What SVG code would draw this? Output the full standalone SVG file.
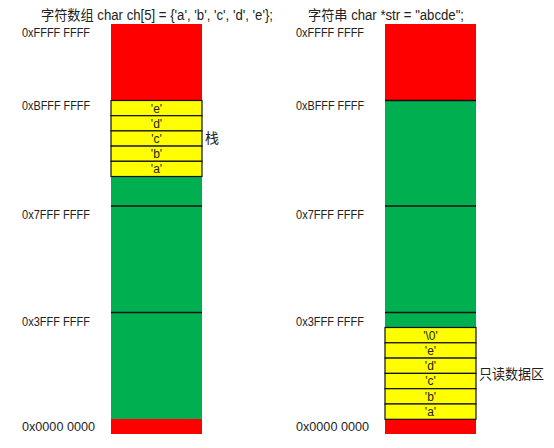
<svg xmlns="http://www.w3.org/2000/svg" width="554" height="448" viewBox="0 0 554 448">
<style>
text{font-family:"Liberation Sans","Noto Sans CJK SC",sans-serif;fill:#222;}
.t{font-size:14px;}
.a{font-size:12px;}
.c{font-size:12px;text-anchor:middle;}
.z{font-size:14px;}
.red{fill:#FF0000;}
.grn{fill:#00B050;}
.yel{fill:#FFFF00;stroke:#111;stroke-width:1.2;}
.ln{stroke:#111;stroke-width:1.5;}
</style>
<rect width="554" height="448" fill="#fff"/>
<g id="left">
<text class="t" x="41" y="20" textLength="232" lengthAdjust="spacingAndGlyphs">字符数组 char ch[5] = {'a', 'b', 'c', 'd', 'e'};</text>
<text class="a" x="22" y="37" textLength="68" lengthAdjust="spacingAndGlyphs">0xFFFF FFFF</text>
<text class="a" x="22" y="110" textLength="68" lengthAdjust="spacingAndGlyphs">0xBFFF FFFF</text>
<text class="a" x="22" y="219" textLength="68" lengthAdjust="spacingAndGlyphs">0x7FFF FFFF</text>
<text class="a" x="22" y="326" textLength="68" lengthAdjust="spacingAndGlyphs">0x3FFF FFFF</text>
<text class="a" x="22" y="431" textLength="73" lengthAdjust="spacingAndGlyphs">0x0000 0000</text>
<rect class="red" x="111" y="24" width="91" height="76"/>
<rect class="grn" x="111" y="176" width="91" height="243"/>
<rect class="red" x="111" y="419" width="91" height="15"/>
<line class="ln" x1="111" y1="206" x2="202" y2="206"/>
<line class="ln" x1="111" y1="312.5" x2="202" y2="312.5"/>
<g id="stack">
<rect class="yel" x="111" y="100.5" width="91" height="15.2"/>
<rect class="yel" x="111" y="115.7" width="91" height="15.2"/>
<rect class="yel" x="111" y="130.9" width="91" height="15.2"/>
<rect class="yel" x="111" y="146.1" width="91" height="15.2"/>
<rect class="yel" x="111" y="161.3" width="91" height="15.2"/>
<text class="c" x="156.5" y="112.5">'e'</text>
<text class="c" x="156.5" y="127.7">'d'</text>
<text class="c" x="156.5" y="142.9">'c'</text>
<text class="c" x="156.5" y="158.1">'b'</text>
<text class="c" x="156.5" y="173.3">'a'</text>
</g>
<text class="z" x="205" y="143">栈</text>
</g>
<g id="right">
<text class="t" x="308" y="20" textLength="156" lengthAdjust="spacingAndGlyphs">字符串 char *str = "abcde";</text>
<text class="a" x="296" y="37" textLength="68" lengthAdjust="spacingAndGlyphs">0xFFFF FFFF</text>
<text class="a" x="296" y="110" textLength="68" lengthAdjust="spacingAndGlyphs">0xBFFF FFFF</text>
<text class="a" x="296" y="219" textLength="68" lengthAdjust="spacingAndGlyphs">0x7FFF FFFF</text>
<text class="a" x="296" y="326" textLength="68" lengthAdjust="spacingAndGlyphs">0x3FFF FFFF</text>
<text class="a" x="296" y="431" textLength="73" lengthAdjust="spacingAndGlyphs">0x0000 0000</text>
<rect class="red" x="385" y="24" width="91" height="76"/>
<rect class="grn" x="385" y="100" width="91" height="227"/>
<rect class="red" x="385" y="419" width="91" height="15"/>
<line class="ln" x1="385" y1="100.5" x2="476" y2="100.5"/>
<line class="ln" x1="385" y1="206" x2="476" y2="206"/>
<line class="ln" x1="385" y1="312.5" x2="476" y2="312.5"/>
<g id="rodata">
<rect class="yel" x="385" y="327.5" width="91" height="15.3"/>
<rect class="yel" x="385" y="342.8" width="91" height="15.3"/>
<rect class="yel" x="385" y="358.1" width="91" height="15.3"/>
<rect class="yel" x="385" y="373.4" width="91" height="15.3"/>
<rect class="yel" x="385" y="388.7" width="91" height="15.3"/>
<rect class="yel" x="385" y="404" width="91" height="15.3"/>
<text class="c" x="430.5" y="339.5">'\0'</text>
<text class="c" x="430.5" y="354.8">'e'</text>
<text class="c" x="430.5" y="370.1">'d'</text>
<text class="c" x="430.5" y="385.4">'c'</text>
<text class="c" x="430.5" y="400.7">'b'</text>
<text class="c" x="430.5" y="416">'a'</text>
</g>
<text class="z" x="479" y="379" textLength="65" lengthAdjust="spacingAndGlyphs">只读数据区</text>
</g>
</svg>
